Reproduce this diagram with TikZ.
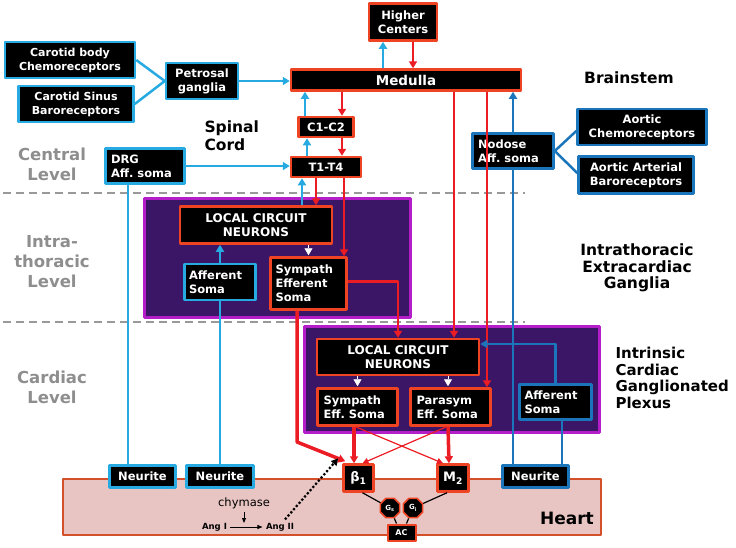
\documentclass[tikz,border=0pt]{standalone}
\usepackage{fontspec}
\setmainfont{DejaVu Sans}
\usetikzlibrary{arrows.meta,shapes.geometric}
\frenchspacing

\definecolor{boxred}{HTML}{EE4423}
\definecolor{linered}{HTML}{EC1C24}
\definecolor{lblue}{HTML}{27AAE1}
\definecolor{dblue}{HTML}{1B75BB}
\definecolor{gangfill}{HTML}{3B1566}
\definecolor{gangedge}{HTML}{B31EC8}
\definecolor{heartfill}{HTML}{E8C5C3}
\definecolor{heartedge}{HTML}{D4502A}
\definecolor{levelgray}{HTML}{8E8E8E}

\begin{document}
\begin{tikzpicture}[x=1pt,y=-1pt,line join=round,
  sz/.style 2 args={minimum width=#1pt,minimum height=#2pt},
  bx/.style={draw=boxred,fill=black,line width=2.5pt,text=white,inner sep=0pt,
    align=center,font=\bfseries\fontsize{11.5}{14}\selectfont},
  bbx/.style={bx,draw=lblue},
  dbx/.style={bx,draw=dblue},
  octo/.style={regular polygon,regular polygon sides=8,draw=boxred,fill=black,
    line width=1.5pt,text=white,inner sep=0pt,minimum size=21pt,
    font=\bfseries\fontsize{7}{8}\selectfont},
  gang/.style={draw=gangedge,fill=gangfill,line width=3pt},
  heartbox/.style={draw=heartedge,fill=heartfill,line width=2pt},
  lvl/.style={text=levelgray,align=center,font=\bfseries\fontsize{16.5}{20}\selectfont},
  reg/.style={align=center,font=\bfseries\fontsize{15.5}{16.5}\selectfont},
  sep/.style={gray!80,line width=1.3pt,dash pattern=on 8pt off 5pt},
  tip/.style={-{Triangle[length=7pt,width=8pt]}},
  bl/.style={lblue,line width=2.5pt},
  dbl/.style={dblue,line width=2.5pt},
  rd/.style={linered,line width=2.5pt},
  thickrd/.style={linered,line width=3.5pt},
  thinrd/.style={linered,line width=1.2pt,-{Triangle[length=6pt,width=6pt]}},
  wtri/.style={white,line width=0.8pt,shorten >=1pt,-{Triangle[length=7pt,width=8pt]}}]

\useasboundingbox (0,0) rectangle (736,547);

\draw[sep] (3,193) -- (525,193);
\draw[sep] (3,322) -- (525,322);

\node[gang,sz={266}{119}] (ga1) at (277.5,258) {};
\node[gang,sz={295}{106}] (ga2) at (452,379.5) {};
\node[heartbox,sz={538}{56}] (heart) at (332,507) {};

\node[bx,sz={68}{37}] (hc) at (403,22) {Higher\\Centers};
\node[bx,sz={230}{21},font=\bfseries\fontsize{13.5}{15}\selectfont] (med) at (406,80) {Medulla};
\node[bx,sz={55}{20}] (c12) at (326,127) {C1-C2};
\node[bx,sz={70}{20}] (t14) at (326,167) {T1-T4};

\node[bbx,sz={130}{36},font=\bfseries\fontsize{11}{14}\selectfont] (cbc) at (70,60) {Carotid body\\Chemoreceptors};
\node[bbx,sz={115}{36},font=\bfseries\fontsize{11}{14}\selectfont] (csb) at (76,104) {Carotid Sinus\\Baroreceptors};
\node[bbx,sz={72}{36}] (pet) at (202,81) {Petrosal\\ganglia};
\node[bbx,sz={79}{35},align=left,text width=68pt] (drg) at (145,166) {DRG\\Aff. soma};

\node[dbx,sz={81}{35},align=left,text width=70pt] (nod) at (513,151) {Nodose\\Aff. soma};
\node[dbx,sz={129}{36}] (aoc) at (642,127) {Aortic\\Chemoreceptors};
\node[dbx,sz={115}{37}] (aob) at (636,175) {Aortic Arterial\\Baroreceptors};

\node[bx,sz={152}{37},font=\bfseries\fontsize{12}{14}\selectfont] (lcn1) at (256,225) {LOCAL CIRCUIT\\NEURONS};
\node[bbx,sz={71}{36},align=left,text width=62pt] (aff1) at (220,282) {Afferent\\Soma};
\node[bx,sz={76}{52},align=left,text width=66pt] (sym1) at (308.5,283.5) {Sympath\\Efferent\\Soma};

\node[bx,sz={162}{36},font=\bfseries\fontsize{12}{14}\selectfont] (lcn2) at (398,357) {LOCAL CIRCUIT\\NEURONS};
\node[bx,sz={80}{37},align=left,text width=68pt] (sym2) at (357.5,407) {Sympath\\Eff. Soma};
\node[bx,sz={80}{37},align=left,text width=68pt] (par2) at (450.5,407) {Parasym\\Eff. Soma};
\node[dbx,sz={72}{35},align=left,text width=62pt] (aff2) at (555.5,402) {Afferent\\Soma};

\node[bbx,sz={66}{22}] (ner1) at (142.5,476.5) {Neurite};
\node[bbx,sz={67}{22}] (ner2) at (220,476.5) {Neurite};
\node[dbx,sz={66}{22}] (ner3) at (535.5,476.5) {Neurite};

\node[bx,sz={30}{27},font=\bfseries\fontsize{13}{15}\selectfont] (b1) at (358.5,478) {β\textsubscript{1}};
\node[bx,sz={31}{27},font=\bfseries\fontsize{13}{15}\selectfont] (m2) at (453,478) {M\textsubscript{2}};
\node[octo] (gs) at (390,508) {G\textsubscript{s}};
\node[octo] (gi) at (413,508) {G\textsubscript{i}};
\node[bx,sz={28}{16},line width=2pt,font=\bfseries\fontsize{8}{9}\selectfont] (ac) at (401.5,532.5) {AC};

\node[font=\fontsize{11.5}{13}\selectfont] (chy) at (244,503) {chymase};
\node[font=\bfseries\fontsize{8.5}{10}\selectfont] (angi) at (214.5,527) {Ang I};
\node[font=\bfseries\fontsize{8.5}{10}\selectfont] (angii) at (280,527) {Ang II};
\coordinate (rx) at (244,523);

\node[lvl] (lvc) at (52,164) {Central\\Level};
\node[lvl] (lvi) at (52,262) {Intra-\\thoracic\\Level};
\node[lvl] (lvh) at (52,387) {Cardiac\\Level};
\node[reg] (brs) at (629,78) {Brainstem};
\node[reg,align=left,anchor=west,font=\bfseries\fontsize{15.5}{18}\selectfont] (spc) at (201,136) {Spinal\\Cord};
\node[reg] (iteg) at (637,268) {Intrathoracic\\Extracardiac\\Ganglia};
\node[reg,align=left,anchor=west,font=\bfseries\fontsize{15}{16.5}\selectfont] (icgp) at (612,378) {Intrinsic\\Cardiac\\Ganglionated\\Plexus};
\node[font=\bfseries\fontsize{17}{20}\selectfont] (hrt) at (567,518) {Heart};

\draw[bl] (cbc.east) -- (pet.west);
\draw[bl] (csb.east) -- (pet.west);
\draw[bl,tip] (pet.east) -- (pet.east -| med.west);
\draw[bl,tip] ([xshift=-23pt]med.north) -- ([xshift=-20pt]hc.south);
\draw[rd,tip] ([xshift=10pt]hc.south) -- ([xshift=7pt]med.north);
\draw[bl,tip] ([xshift=-21pt]c12.north) -- ([xshift=-101pt]med.south);
\draw[rd,tip] ([xshift=-64pt]med.south) -- ([xshift=16pt]c12.north);
\draw[bl,tip] ([xshift=-19pt]t14.north) -- ([xshift=-19pt]c12.south);
\draw[rd,tip] ([xshift=16pt]c12.south) -- ([xshift=16pt]t14.north);
\draw[bl,tip] (drg.east) -- (drg.east -| t14.west);
\draw[bl,tip] ([xshift=46pt]lcn1.north) -- ([xshift=-24pt]t14.south);
\draw[rd,tip] ([xshift=-10pt]t14.south) -- ([xshift=60pt]lcn1.north);
\draw[rd,tip] ([xshift=18pt]t14.south) -- ([xshift=35.5pt]sym1.north);
\draw[wtri] (lcn1.south -| sym1.north) -- (sym1.north);
\draw[bl,tip] (aff1.north) -- (aff1.north |- lcn1.south);
\draw[bl] (aff1.south) -- (ner2.north);
\draw[bl] ([xshift=-17pt]drg.south) -- ([xshift=-14.5pt]ner1.north);
\draw[rd,tip] ([yshift=2pt]sym1.east) -| (lcn2.north);

\coordinate (sbend) at (297,442);
\draw[thickrd,tip] ([xshift=-11.5pt]sym1.south) -- (sbend) -- ([shift={(3pt,2pt)}]b1.north west);

\draw[rd,tip] ([xshift=48pt]med.south) -- ([xshift=56pt]lcn2.north);
\draw[rd,tip] ([xshift=81pt]med.south) -- ([xshift=36.5pt]par2.north);
\draw[dbl,tip] (nod.north) -- (nod.north |- med.south);
\draw[dbl] (nod.east) -- ([yshift=-4pt]aoc.west);
\draw[dbl] (nod.east) -- ([yshift=2pt]aob.west);
\draw[dbl] (nod.south) -- (nod.south |- ner3.north);
\draw[dbl,tip] (aff2.north) |- ([yshift=13pt]lcn2.east);
\draw[dbl] ([xshift=6.5pt]aff2.south) -- ([xshift=26.5pt]ner3.north);

\draw[wtri] (lcn2.south -| sym2.north) -- (sym2.north);
\draw[wtri] ([xshift=-2.5pt]lcn2.south -| par2.north) -- ([xshift=-2.5pt]par2.north);
\draw[thickrd,tip] ([xshift=-3.5pt]sym2.south) -- ([xshift=-4.5pt]b1.north);
\draw[thickrd,tip] ([xshift=-2.5pt]par2.south) -- ([xshift=-4pt]m2.north);
\draw[thinrd] ([xshift=-2pt]sym2.south) -- ([xshift=-10pt]m2.north);
\draw[thinrd] ([xshift=-4pt]par2.south) -- ([xshift=4pt]b1.north);

\draw[line width=1.2pt] ([xshift=4pt]b1.south) -- (gs);
\draw[line width=1.2pt] ([xshift=-6pt]m2.south) -- (gi);
\draw[line width=1.2pt] (gs) -- ([xshift=-5pt]ac.north);
\draw[line width=1.2pt] (gi) -- ([xshift=5pt]ac.north);

\draw[line width=0.9pt,-{Triangle[length=5pt,width=4pt]}] (chy.south) -- (rx);
\draw[line width=0.9pt,-{Triangle[length=5pt,width=4pt]}] (angi.east) -- (angii.west);
\draw[line width=2.2pt,dotted,-{Triangle[length=7pt,width=7pt]}] ([xshift=5pt]angii.north) -- ([shift={(-4pt,5pt)}]b1.north west);
\end{tikzpicture}
\end{document}
